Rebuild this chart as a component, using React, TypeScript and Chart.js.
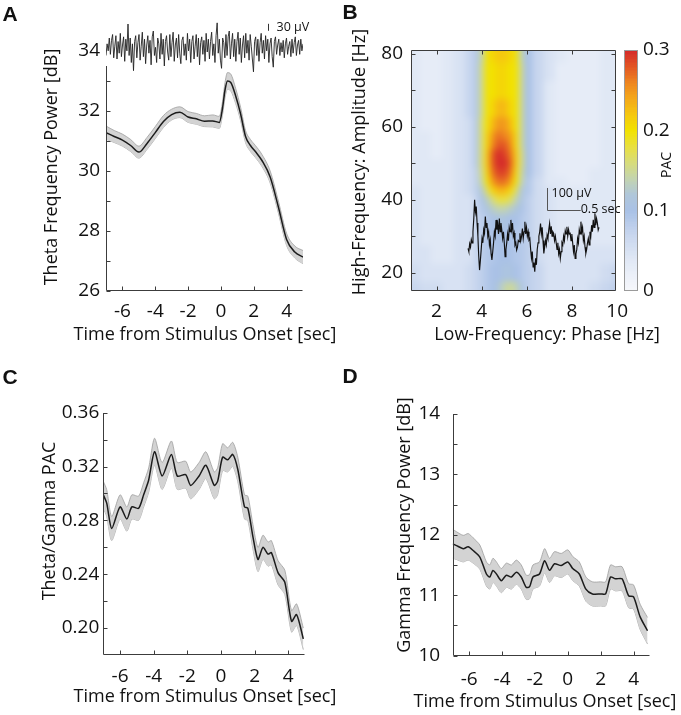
import React, { useEffect, useRef } from "react";
import { Chart, registerables } from "chart.js";
Chart.register(...registerables);

const FONT = "'Open Sans', 'Noto Sans', 'DejaVu Sans', sans-serif";
const LETTER_FONT = "bold 21px 'Liberation Sans', Arial, sans-serif";
const TXT = "#111111";
const AXIS = "#3c3c3c";
const LINE = "#1c1c1c";
const BAND_FILL = "#d3d3d3";
const BAND_EDGE = "#9e9e9e";
const TICK = 4;
const TICK_FONT = 19;
const TITLE_FONT = `18px ${FONT}`;

// ---------------- Panel A: theta power ----------------
const A_TIME = [-7, -6.5, -6, -5.5, -5, -4.5, -4, -3.5, -3, -2.5, -2, -1.5, -1, -0.5, -0.1, 0.1, 0.25, 0.4, 0.6, 0.9, 1.2, 1.5, 1.8, 2.1, 2.5, 3.0, 3.5, 4.0, 4.5, 5.0];
const A_MEAN = [31.28, 31.15, 31.03, 30.85, 30.63, 30.92, 31.28, 31.65, 31.88, 31.96, 31.8, 31.74, 31.66, 31.67, 31.62, 32.1, 32.7, 33.0, 32.95, 32.5, 31.9, 31.15, 30.85, 30.65, 30.35, 29.8, 28.8, 27.72, 27.3, 27.13];
const A_SEM = [0.22, 0.2, 0.2, 0.2, 0.2, 0.2, 0.2, 0.2, 0.18, 0.18, 0.18, 0.18, 0.18, 0.2, 0.2, 0.22, 0.25, 0.28, 0.28, 0.25, 0.22, 0.2, 0.2, 0.2, 0.2, 0.2, 0.2, 0.2, 0.2, 0.22];
const A_X_TICKS = [-6, -4, -2, 0, 2, 4];
const A_Y_TICKS = [26, 28, 30, 32, 34];
const A_Y_MINOR = [26, 27, 28, 29, 30, 31, 32, 33];
// raw theta-band trace shown above panel A (µV)
const A_RAW_UV = [
  -30, 20, -10, 45, -25, 35, 60, -40, 10, 55,
  -45, 30, -20, 65, -35, 15, 50, -55, 40, -10,
  105, -30, 45, -60, 20, -95, 30, 55, -40, 25,
  60, -50, 10, 70, -35, 40, -65, 15, 55, -20,
  35, -70, 50, 75, -30, 5, -60, 45, 20, -45,
  65, -25, 40, -75, 30, 55, -15, -50, 60, -35,
  25, 70, -55, 15, 45, -40, 60, -20, -65, 35,
  50, -30, 20, -50, 65, -10, 40, -60, 30, 55,
  -45, 10, 60, -35, 45, -70, 25, 50, -25, 35,
  -55, 65, -15, 40, -45, 30, 70, -30, 20, -60,
  55, 110, -20, 40, -50, -85, 45, 25, -40, 60,
  -30, 50, 75, -45, 20, 65, -35, 40, -55, 30,
  70, -25, 45, -60, 15, 55, -40, 65, -20, 35,
  -50, 60, 10, -45, -100, 30, 50, -30, 40, -55,
  25, 65, -20, 35, -45, 55, -10, 40, -60, 20,
  45, -35, -80, 30, 50, -25, 15, 40, -30, 25,
  -15, 35, -40, 20, 45, -25, 10, 30, -35, 40,
  -20, 25, 50, -30, 15, 35, -25, 40, -10, 20,
];
const A_RAW_START = -7;
const A_RAW_END = 5;
const A_BAR = { t: 2.88, v0: 76, dv: 30, label: "30 µV" };

// ---------------- Panel B: comodulogram ----------------
const B_PHASE_HZ = [1, 1.5, 2, 2.5, 3, 3.5, 3.75, 4, 4.25, 4.5, 4.75, 5, 5.25, 5.5, 5.75, 6, 6.5, 7, 7.5, 8, 8.5, 9, 9.5, 10];
const B_AMP_HZ = [15, 20, 25, 30, 35, 37.5, 40, 42.5, 45, 47.5, 50, 52.5, 55, 57.5, 60, 65, 70, 75, 80];
// PAC x 100, one row per amplitude frequency (bottom to top)
const B_PAC_x100 = [
  [7, 6, 6, 5, 5, 6, 7, 8, 9, 10, 12, 14, 15, 14, 11, 8, 7, 5, 5, 5, 5, 6, 7, 8],
  [6, 5, 5, 5, 5, 6, 7, 8, 9, 10, 10, 11, 11, 10, 9, 8, 7, 5, 5, 5, 5, 5, 6, 7],
  [5, 5, 4, 4, 5, 5, 7, 8, 9, 9, 10, 10, 10, 9, 9, 8, 6, 5, 5, 5, 5, 5, 5, 5],
  [5, 4, 4, 4, 5, 5, 7, 8, 9, 10, 10, 10, 10, 9, 9, 8, 6, 5, 4, 4, 4, 4, 4, 4],
  [5, 4, 4, 4, 5, 5, 7, 8, 9, 10, 11, 11, 10, 10, 9, 8, 6, 5, 4, 4, 4, 4, 4, 4],
  [5, 4, 4, 4, 5, 5, 7, 9, 11, 13, 14, 14, 13, 12, 10, 8, 6, 5, 4, 4, 4, 4, 4, 4],
  [5, 4, 4, 4, 5, 5, 7, 10, 13, 16, 18, 18, 17, 14, 11, 8, 6, 5, 4, 4, 4, 4, 4, 4],
  [5, 4, 4, 4, 5, 6, 8, 12, 17, 21, 23, 23, 21, 17, 12, 9, 6, 5, 4, 4, 4, 4, 4, 4],
  [4, 4, 4, 4, 5, 6, 8, 14, 20, 25, 27, 27, 25, 20, 14, 9, 6, 4, 4, 3, 3, 4, 4, 4],
  [4, 4, 4, 4, 5, 6, 8, 15, 21, 27, 29, 29, 27, 21, 15, 10, 7, 4, 3, 3, 3, 4, 4, 4],
  [4, 4, 4, 4, 5, 6, 9, 16, 22, 28, 30, 30, 28, 22, 16, 10, 7, 4, 3, 3, 3, 3, 4, 4],
  [4, 4, 3, 4, 5, 6, 9, 16, 22, 28, 30, 29, 27, 22, 16, 10, 7, 4, 3, 3, 3, 3, 4, 4],
  [4, 4, 3, 4, 5, 6, 9, 16, 21, 26, 28, 28, 26, 21, 15, 10, 7, 4, 3, 3, 3, 3, 4, 4],
  [4, 4, 3, 4, 5, 6, 9, 16, 21, 25, 27, 26, 25, 21, 15, 10, 7, 4, 3, 3, 3, 3, 4, 4],
  [4, 3, 3, 4, 5, 6, 9, 16, 20, 23, 25, 25, 23, 20, 15, 10, 7, 4, 3, 3, 3, 3, 4, 4],
  [4, 3, 3, 4, 5, 7, 9, 15, 20, 21, 23, 23, 21, 20, 15, 10, 7, 4, 3, 3, 3, 3, 4, 4],
  [4, 3, 3, 4, 5, 7, 9, 15, 20, 20, 21, 21, 20, 20, 15, 10, 7, 4, 3, 3, 3, 3, 4, 4],
  [4, 3, 3, 4, 5, 7, 9, 15, 20, 20, 21, 21, 20, 20, 15, 10, 7, 5, 3, 3, 3, 3, 4, 4],
  [4, 3, 3, 4, 5, 7, 9, 14, 20, 21, 22, 22, 21, 20, 14, 10, 7, 5, 4, 3, 3, 3, 4, 4],
];
const B_X_TICKS = [2, 4, 6, 8, 10];
const B_X_MARKS = [2, 4, 6, 8];
const B_Y_TICKS = [20, 40, 60, 80];
const B_Y_MARKS = [20, 30, 40, 50, 60, 70, 80];
const B_CB_TICKS = [0, 0.1, 0.2, 0.3];
const PAC_COLOR_STOPS: [number, string][] = [
  [0, "#f7f8fc"], [0.04, "#e0e8f5"], [0.07, "#c8d6ee"], [0.1, "#a9c1e6"], [0.12, "#afc6da"],
  [0.14, "#c3d4b0"], [0.16, "#d7dc7c"], [0.18, "#e9e040"], [0.2, "#f2e200"], [0.22, "#f5c810"],
  [0.24, "#f4a81a"], [0.26, "#ee8520"], [0.28, "#e25524"], [0.3, "#d42a2a"],
];
// raw LFP inset (µV), 1.93 s long
const B_INSET_UV = [
  -15, -30, 5, -10, 25, 10, 60, 120, 205, 150,
  175, 100, 40, -50, -114, -70, -20, 30, 10, 70,
  53, 129, 80, 100, 40, 60, 0, 23, -40, -68,
  -30, 10, 60, 40, 114, 70, 95, 50, 120, 60,
  100, 68, 30, 60, 10, -53, -20, 10, 50, 20,
  80, 60, 114, 70, 100, 40, 55, 0, 10, -23,
  -10, 20, 15, 53, 20, 40, 75, 30, 60, 106,
  50, 80, 40, 60, 23, 30, -20, -60, -30, -100,
  -80, -121, -60, -90, -20, 10, 40, 60, 98, 50,
  80, 20, -38, -10, 20, 0, 45, 30, 70, 98,
  50, 85, 40, 60, 53, 20, 40, 10, -20, 10,
  -40, -20, -61, -30, 10, 0, 40, 20, 65, 50,
  83, 40, 70, 50, 53, 20, 50, 10, -30, 0,
  -61, -40, -20, 30, 10, 70, 50, 106, 60, 80,
  20, 40, -10, -38, -20, 10, 30, 0, 60, 40,
  90, 60, 114, 80, 144, 90, 120, 100, 68, 80,
];
const B_INSET_DURATION = 1.93;
const B_BAR = { t: 1.16, dt: 0.5, v0: 159, dv: 100, vLabel: "100 µV", tLabel: "0.5 sec" };

// ---------------- Panel C: theta/gamma PAC ----------------
const C_TIME = [-7, -6.8, -6.5, -6.0, -5.6, -5.3, -4.9, -4.6, -4.3, -3.95, -3.5, -2.95, -2.6, -2.1, -1.8, -1.3, -0.9, -0.4, -0.2, 0.1, 0.4, 0.7, 1.0, 1.4, 1.6, 1.9, 2.2, 2.5, 2.8, 3.0, 3.4, 3.8, 4.2, 4.5, 4.9];
const C_MEAN = [0.299, 0.293, 0.274, 0.290, 0.281, 0.290, 0.289, 0.299, 0.310, 0.331, 0.313, 0.329, 0.313, 0.314, 0.306, 0.313, 0.321, 0.306, 0.309, 0.327, 0.325, 0.329, 0.318, 0.290, 0.289, 0.268, 0.251, 0.260, 0.255, 0.256, 0.241, 0.234, 0.205, 0.210, 0.192];
const C_SEM = [0.010, 0.010, 0.009, 0.009, 0.009, 0.009, 0.009, 0.009, 0.009, 0.010, 0.010, 0.010, 0.010, 0.010, 0.010, 0.010, 0.010, 0.010, 0.010, 0.010, 0.009, 0.009, 0.009, 0.009, 0.009, 0.009, 0.009, 0.009, 0.009, 0.009, 0.009, 0.009, 0.008, 0.008, 0.008];
const C_X_TICKS = [-6, -4, -2, 0, 2, 4];
const C_Y_TICKS = [0.2, 0.24, 0.28, 0.32, 0.36];
const C_Y_MINOR = [0.2, 0.22, 0.24, 0.26, 0.28, 0.3, 0.32, 0.34, 0.36];

// ---------------- Panel D: gamma power ----------------
const D_TIME = [-7.0, -6.77, -6.36, -6.06, -5.76, -5.35, -4.95, -4.75, -4.55, -4.34, -4.04, -3.74, -3.43, -3.13, -2.83, -2.53, -2.32, -2.12, -1.72, -1.41, -1.11, -0.81, -0.40, 0, 0.3, 0.7, 1.1, 1.5, 2.0, 2.3, 2.6, 2.9, 3.3, 3.7, 4.0, 4.4, 4.85];
const D_MEAN = [11.85, 11.82, 11.77, 11.80, 11.74, 11.63, 11.35, 11.30, 11.41, 11.35, 11.24, 11.33, 11.30, 11.38, 11.30, 11.13, 11.14, 11.30, 11.35, 11.57, 11.41, 11.52, 11.49, 11.55, 11.44, 11.35, 11.10, 11.02, 11.02, 11.02, 11.30, 11.27, 11.27, 10.99, 10.97, 10.64, 10.41];
const D_SEM = [0.24, 0.23, 0.22, 0.22, 0.21, 0.2, 0.2, 0.2, 0.2, 0.2, 0.2, 0.2, 0.2, 0.2, 0.2, 0.2, 0.2, 0.2, 0.2, 0.2, 0.2, 0.2, 0.2, 0.2, 0.2, 0.2, 0.2, 0.2, 0.2, 0.2, 0.2, 0.2, 0.2, 0.2, 0.2, 0.21, 0.22];
const D_X_TICKS = [-6, -4, -2, 0, 2, 4];
const D_Y_TICKS = [10, 11, 12, 13, 14];
const D_Y_MINOR = [10, 10.5, 11, 11.5, 12, 12.5, 13, 13.5, 14];

// ---------------- helpers ----------------
function hexToRgb(h: string) {
  const n = parseInt(h.slice(1), 16);
  return [(n >> 16) & 255, (n >> 8) & 255, n & 255];
}
function pacColor(v: number) {
  const s = PAC_COLOR_STOPS;
  if (v <= s[0][0]) return s[0][1];
  for (let i = 1; i < s.length; i++) {
    if (v <= s[i][0]) {
      const f = (v - s[i - 1][0]) / (s[i][0] - s[i - 1][0]);
      const a = hexToRgb(s[i - 1][1]);
      const b = hexToRgb(s[i][1]);
      const c = a.map((x, k) => Math.round(x + (b[k] - x) * f));
      return `rgb(${c[0]},${c[1]},${c[2]})`;
    }
  }
  return s[s.length - 1][1];
}
function cellEdges(c: number[]) {
  const e = [c[0] - (c[1] - c[0]) / 2];
  for (let i = 0; i < c.length - 1; i++) e.push((c[i] + c[i + 1]) / 2);
  e.push(c[c.length - 1] + (c[c.length - 1] - c[c.length - 2]) / 2);
  return e;
}

function axisScale(o: any) {
  return {
    type: "linear",
    min: o.min,
    max: o.max,
    position: o.position,
    axis: o.axis,
    afterBuildTicks: (s: any) => {
      s.ticks = o.ticks.map((v: number) => ({ value: v }));
    },
    afterFit: (s: any) => {
      if (o.width != null) s.width = o.width;
      if (o.height != null) s.height = o.height;
    },
    grid: { display: false, drawTicks: false, tickLength: 0 },
    border: { display: false },
    ticks: {
      autoSkip: false,
      maxRotation: 0,
      minRotation: 0,
      padding: o.pad,
      color: TXT,
      font: { family: FONT, size: o.size ?? TICK_FONT, lineHeight: 1.2 },
      callback: o.fmt ?? ((v: number) => String(v)),
    },
  };
}

function bandDatasets(time: number[], mean: number[], sem: number[], smooth: boolean) {
  const pts = (f: (i: number) => number) => time.map((t, i) => ({ x: t, y: f(i) }));
  const common: any = smooth
    ? { pointRadius: 0, cubicInterpolationMode: "monotone" }
    : { pointRadius: 0, tension: 0.25 };
  return [
    { data: pts((i) => mean[i]), borderColor: LINE, borderWidth: 1.5, fill: false, ...common },
    { data: pts((i) => mean[i] + sem[i]), borderColor: BAND_EDGE, borderWidth: 0.8, backgroundColor: BAND_FILL, fill: "+1", ...common },
    { data: pts((i) => mean[i] - sem[i]), borderColor: BAND_EDGE, borderWidth: 0.8, fill: false, ...common },
  ];
}

function drawText(ctx: any, text: string, x: number, y: number, font: string, rot = 0, align = "center") {
  ctx.save();
  ctx.translate(x, y);
  if (rot) ctx.rotate(rot);
  ctx.font = font;
  ctx.fillStyle = TXT;
  ctx.textAlign = align;
  ctx.textBaseline = "middle";
  ctx.fillText(text, 0, 0);
  ctx.restore();
}

function panelPlugin(p: any) {
  return {
    id: "panel" + p.letter,
    beforeDatasetsDraw(chart: any) {
      if (p.before) p.before(chart);
    },
    afterDraw(chart: any) {
      const ctx = chart.ctx;
      const xs = chart.scales.x;
      const ys = chart.scales.y;
      const { left, right, top, bottom } = chart.chartArea;
      const L = Math.round(left) + 0.5;
      const R = Math.round(right) - 0.5;
      const B = Math.round(bottom) - 0.5;
      const T = Math.round(top) + 0.5;
      ctx.save();
      ctx.strokeStyle = AXIS;
      ctx.lineWidth = 1;
      ctx.beginPath();
      if (p.box) {
        ctx.rect(L, T, R - L, B - T);
      } else {
        ctx.moveTo(L, Math.round(ys.getPixelForValue(p.axisTop)));
        ctx.lineTo(L, B);
        ctx.lineTo(R, B);
      }
      for (const v of p.yMarks) {
        const y = Math.round(ys.getPixelForValue(v)) + 0.5;
        ctx.moveTo(L, y);
        ctx.lineTo(L + TICK, y);
        if (p.box) {
          ctx.moveTo(R, y);
          ctx.lineTo(R - TICK, y);
        }
      }
      for (const v of p.xMarks) {
        const x = Math.round(xs.getPixelForValue(v)) + 0.5;
        ctx.moveTo(x, B);
        ctx.lineTo(x, B - TICK);
        if (p.box) {
          ctx.moveTo(x, T);
          ctx.lineTo(x, T + TICK);
        }
      }
      ctx.stroke();
      ctx.restore();
      drawText(ctx, p.yTitle.text, p.yTitle.x, p.yTitle.y, TITLE_FONT, -Math.PI / 2);
      drawText(ctx, p.xTitle.text, p.xTitle.x, p.xTitle.y, TITLE_FONT);
      drawText(ctx, p.letter, p.letterPos[0], p.letterPos[1], LETTER_FONT);
      if (p.after) p.after(chart);
    },
  };
}

function baseOptions(padding: any, scales: any) {
  return {
    responsive: false,
    animation: false,
    devicePixelRatio: 1,
    events: [],
    layout: { padding },
    plugins: { legend: { display: false }, tooltip: { enabled: false } },
    scales,
  };
}

// ---------------- chart configs ----------------
function configA() {
  const rawPts = A_RAW_UV.map((v, i) => ({
    x: A_RAW_START + (i * (A_RAW_END - A_RAW_START)) / (A_RAW_UV.length - 1),
    y: v,
  }));
  return {
    type: "line",
    data: {
      datasets: [
        ...bandDatasets(A_TIME, A_MEAN, A_SEM, true),
        { data: rawPts, yAxisID: "yr", borderColor: "#222", borderWidth: 0.9, pointRadius: 0, tension: 0, fill: false },
      ],
    },
    options: baseOptions({ left: 0, top: 21, right: 37, bottom: 0 }, {
      x: axisScale({ min: -7, max: 5, ticks: A_X_TICKS, height: 59, pad: 9.5 }),
      y: axisScale({ min: 26, max: 35, ticks: A_Y_TICKS, width: 106, pad: 6 }),
      yr: { type: "linear", display: false, min: -1040, max: 118 },
    }),
    plugins: [
      panelPlugin({
        letter: "A", letterPos: [10, 15], axisTop: 33.5,
        yMarks: A_Y_MINOR, xMarks: A_X_TICKS,
        yTitle: { text: "Theta Frequency Power [dB]", x: 52, y: 167 },
        xTitle: { text: "Time from Stimulus Onset [sec]", x: 205, y: 335 },
        after: (chart: any) => {
          const ctx = chart.ctx;
          const xs = chart.scales.x;
          const yr = chart.scales.yr;
          const x = Math.round(xs.getPixelForValue(A_BAR.t)) + 0.5;
          const y0 = yr.getPixelForValue(A_BAR.v0);
          const y1 = yr.getPixelForValue(A_BAR.v0 + A_BAR.dv);
          ctx.save();
          ctx.strokeStyle = "#333";
          ctx.lineWidth = 1;
          ctx.beginPath();
          ctx.moveTo(x, y0);
          ctx.lineTo(x, y1);
          ctx.stroke();
          ctx.restore();
          drawText(ctx, A_BAR.label, x + 8, (y0 + y1) / 2, `12.5px ${FONT}`, 0, "left");
        },
      }),
    ],
  };
}

function configB() {
  const insetPts = B_INSET_UV.map((v, i) => ({ x: (i * B_INSET_DURATION) / (B_INSET_UV.length - 1), y: v }));
  const xe = cellEdges(B_PHASE_HZ);
  const ye = cellEdges(B_AMP_HZ);
  return {
    type: "line",
    data: {
      datasets: [
        { data: insetPts, xAxisID: "xt", yAxisID: "yt", borderColor: "#111", borderWidth: 1.15, pointRadius: 0, tension: 0, fill: false },
      ],
    },
    options: baseOptions({ left: 0, top: 50, right: 0, bottom: 0 }, {
      x: axisScale({ min: 0.87, max: 9.95, ticks: B_X_TICKS, height: 59, pad: 9.5 }),
      y: axisScale({ min: 15, max: 81, ticks: B_Y_TICKS, width: 71, pad: 8 }),
      cb: axisScale({ axis: "y", position: "right", min: 0, max: 0.3, ticks: B_CB_TICKS, width: 65, pad: 27 }),
      xt: { type: "linear", display: false, min: -0.84, max: 2.18 },
      yt: { type: "linear", display: false, min: -209, max: 886 },
    }),
    plugins: [
      panelPlugin({
        letter: "B", letterPos: [10, 13], box: true,
        yMarks: B_Y_MARKS, xMarks: B_X_MARKS,
        yTitle: { text: "High-Frequency: Amplitude [Hz]", x: 20, y: 162 },
        xTitle: { text: "Low-Frequency: Phase [Hz]", x: 207, y: 335 },
        before: (chart: any) => {
          const ctx = chart.ctx;
          const xs = chart.scales.x;
          const ys = chart.scales.y;
          const ca = chart.chartArea;
          // paint the cells onto a small grid (one pixel per 0.125 Hz x 1.25 Hz)
          const ux = 0.125;
          const uy = 1.25;
          const gx0 = xe[0];
          const gy0 = ye[0];
          const W = Math.round((xe[xe.length - 1] - gx0) / ux);
          const H = Math.round((ye[ye.length - 1] - gy0) / uy);
          const off = document.createElement("canvas");
          off.width = W;
          off.height = H;
          const octx = off.getContext("2d") as CanvasRenderingContext2D;
          B_PAC_x100.forEach((row, j) => {
            row.forEach((v, i) => {
              const px0 = Math.round((xe[i] - gx0) / ux);
              const px1 = Math.round((xe[i + 1] - gx0) / ux);
              const py0 = H - Math.round((ye[j + 1] - gy0) / uy);
              const py1 = H - Math.round((ye[j] - gy0) / uy);
              octx.fillStyle = pacColor(v / 100);
              octx.fillRect(px0, py0, px1 - px0, py1 - py0);
            });
          });
          const dx0 = xs.getPixelForValue(xe[0]);
          const dx1 = xs.getPixelForValue(xe[xe.length - 1]);
          const dy0 = ys.getPixelForValue(ye[ye.length - 1]);
          const dy1 = ys.getPixelForValue(ye[0]);
          ctx.save();
          ctx.beginPath();
          ctx.rect(ca.left, ca.top, ca.right - ca.left, ca.bottom - ca.top);
          ctx.clip();
          ctx.imageSmoothingEnabled = true;
          (ctx as any).imageSmoothingQuality = "high";
          ctx.drawImage(off, dx0, dy0, dx1 - dx0, dy1 - dy0);
          ctx.filter = "blur(3px)";
          ctx.drawImage(off, dx0, dy0, dx1 - dx0, dy1 - dy0);
          ctx.filter = "none";
          ctx.restore();
          // colorbar
          const cb = chart.scales.cb;
          const cx0 = Math.round(ca.right) + 8;
          const cw = 14;
          ctx.save();
          for (let k = 0; k < 150; k++) {
            const v0 = (k / 150) * 0.3;
            const v1 = ((k + 1) / 150) * 0.3;
            const ya = cb.getPixelForValue(v1);
            const yb = cb.getPixelForValue(v0);
            ctx.fillStyle = pacColor((v0 + v1) / 2);
            ctx.fillRect(cx0, Math.floor(ya), cw, Math.ceil(yb) - Math.floor(ya));
          }
          ctx.strokeStyle = "#9a9a9a";
          ctx.lineWidth = 1;
          const yt = Math.round(cb.getPixelForValue(0.3)) + 0.5;
          const yb = Math.round(cb.getPixelForValue(0)) - 0.5;
          ctx.strokeRect(cx0 + 0.5, yt, cw - 1, yb - yt);
          ctx.restore();
        },
        after: (chart: any) => {
          const ctx = chart.ctx;
          const xt = chart.scales.xt;
          const yt = chart.scales.yt;
          const x0 = Math.round(xt.getPixelForValue(B_BAR.t)) + 0.5;
          const x1 = xt.getPixelForValue(B_BAR.t + B_BAR.dt);
          const y0 = Math.round(yt.getPixelForValue(B_BAR.v0)) + 0.5;
          const y1 = yt.getPixelForValue(B_BAR.v0 + B_BAR.dv);
          ctx.save();
          ctx.strokeStyle = "#555";
          ctx.lineWidth = 1;
          ctx.beginPath();
          ctx.moveTo(x0, y1);
          ctx.lineTo(x0, y0);
          ctx.lineTo(x1, y0);
          ctx.stroke();
          ctx.restore();
          drawText(ctx, B_BAR.vLabel, x0 + 4, y1 + 5, `12.5px ${FONT}`, 0, "left");
          drawText(ctx, B_BAR.tLabel, x1, y0 - 1, `12.5px ${FONT}`, 0, "left");
          drawText(ctx, "PAC", 327, 165, `14px ${FONT}`, -Math.PI / 2);
        },
      }),
    ],
  };
}

function configC() {
  return {
    type: "line",
    data: { datasets: bandDatasets(C_TIME, C_MEAN, C_SEM, false) },
    options: baseOptions({ left: 0, top: 72.7, right: 35, bottom: 0 }, {
      x: axisScale({ min: -7, max: 5, ticks: C_X_TICKS, height: 60, pad: 10.3 }),
      y: axisScale({ min: 0.18, max: 0.36, ticks: C_Y_TICKS, width: 103.3, pad: 4, fmt: (v: number) => v.toFixed(2) }),
    }),
    plugins: [
      panelPlugin({
        letter: "C", letterPos: [10, 38.5], axisTop: 0.36,
        yMarks: C_Y_MINOR, xMarks: C_X_TICKS,
        yTitle: { text: "Theta/Gamma PAC", x: 50, y: 181 },
        xTitle: { text: "Time from Stimulus Onset [sec]", x: 205, y: 357 },
      }),
    ],
  };
}

function configD() {
  return {
    type: "line",
    data: { datasets: bandDatasets(D_TIME, D_MEAN, D_SEM, false) },
    options: baseOptions({ left: 0, top: 74, right: 31, bottom: 0 }, {
      x: axisScale({ min: -7, max: 5, ticks: D_X_TICKS, height: 59.5, pad: 13 }),
      y: axisScale({ min: 10, max: 14, ticks: D_Y_TICKS, width: 112.7, pad: 12.5 }),
    }),
    plugins: [
      panelPlugin({
        letter: "D", letterPos: [10, 37.5], axisTop: 14,
        yMarks: D_Y_MINOR, xMarks: D_X_TICKS,
        yTitle: { text: "Gamma Frequency Power [dB]", x: 65, y: 185 },
        xTitle: { text: "Time from Stimulus Onset [sec]", x: 205, y: 362 },
      }),
    ],
  };
}

function Panel({ left, top, width, height, build }: any) {
  const ref = useRef<HTMLCanvasElement>(null);
  useEffect(() => {
    const chart = new Chart(ref.current as HTMLCanvasElement, build() as any);
    return () => chart.destroy();
  }, []);
  return (
    <canvas
      ref={ref}
      width={width}
      height={height}
      style={{ position: "absolute", left, top, width, height, display: "block" }}
    />
  );
}

export default function App() {
  return (
    <div style={{ position: "absolute", left: 0, top: 0, width: 681, height: 715, background: "#ffffff", overflow: "hidden" }}>
      <Panel left={0} top={0} width={340} height={350} build={configA} />
      <Panel left={340} top={0} width={341} height={350} build={configB} />
      <Panel left={0} top={340} width={340} height={375} build={configC} />
      <Panel left={340} top={340} width={341} height={375} build={configD} />
    </div>
  );
}
